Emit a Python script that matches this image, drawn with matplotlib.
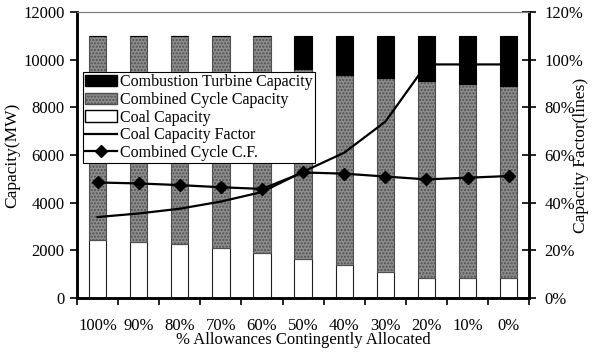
import numpy as np
import matplotlib.pyplot as plt
from matplotlib.patches import Patch
from matplotlib.lines import Line2D

plt.rcParams['font.family'] = ['Liberation Serif', 'DejaVu Serif']
plt.rcParams['font.size'] = 12

categories = ['100%', '90%', '80%', '70%', '60%', '50%', '40%', '30%', '20%', '10%', '0%']
coal_cap = [2450, 2350, 2250, 2100, 1900, 1650, 1400, 1100, 850, 850, 850]
cc_cap = [8550, 8650, 8750, 8900, 9100, 7950, 7950, 8150, 8250, 8150, 8050]
ct_cap = [0, 0, 0, 0, 0, 1400, 1650, 1750, 1900, 2000, 2100]
coal_cf = [34, 35.5, 37.5, 40.5, 44.5, 53, 61, 74, 98, 98, 98]
cc_cf = [48.5, 48.1, 47.4, 46.5, 45.8, 52.7, 52.2, 51.0, 49.8, 50.5, 51.2]

x = np.arange(len(categories))
fig = plt.figure(figsize=(5.92, 3.52), dpi=100)
ax = fig.add_axes([0.130, 0.153, 0.764, 0.813])

gray = '#8c8c8c'
dots = '#505050'
w = 0.42
ax.bar(x, coal_cap, w, color='white', edgecolor='#202020', linewidth=0.8, zorder=2)
ax.bar(x, cc_cap, w, bottom=coal_cap, color=gray, edgecolor=dots,
       hatch='.....', linewidth=0.8, zorder=2)
bottom2 = np.array(coal_cap) + np.array(cc_cap)
ax.bar(x, ct_cap, w, bottom=bottom2, color='black', edgecolor='black', linewidth=0.8, zorder=2)

ax.set_xlim(-0.5, len(categories) - 0.5)
ax.set_ylim(0, 12000)
ax.set_yticks(np.arange(0, 12001, 2000))
ax.set_xticks(np.arange(-0.5, len(categories), 1))
ax.set_xticklabels([])
ax.set_xticks(x, minor=True)
ax.set_xticklabels(categories, minor=True)
ax.tick_params(axis='x', which='major', direction='out', length=5, width=1.2)
ax.tick_params(axis='x', which='minor', length=0, pad=14)
ax.tick_params(axis='y', direction='out', length=5, width=1.2, pad=4)
ax.set_ylabel('Capacity(MW)', fontsize=12.5, labelpad=2)
ax.set_xlabel('% Allowances Contingently Allocated', labelpad=-1)

for s in ['left', 'bottom', 'right']:
    ax.spines[s].set_linewidth(1.8)
ax.spines['top'].set_linewidth(0.8)
ax.spines['top'].set_color('#808080')

ax2 = ax.twinx()
ax2.plot(x, coal_cf, color='black', linewidth=1.6, zorder=3)
ax2.plot(x, cc_cf, color='black', linewidth=1.6, marker='D', markersize=6, zorder=3)
ax2.set_ylim(0, 120)
ax2.set_yticks(np.arange(0, 121, 20))
ax2.set_yticklabels([f'{v}%' for v in range(0, 121, 20)])
ax2.tick_params(axis='y', direction='inout', length=10, width=1.2, pad=6)
ax2.set_ylabel('Capacity Factor(lines)', fontsize=12.5)
ax2.yaxis.set_label_coords(1.097, 0.5)
for s in ['left', 'bottom', 'right']:
    ax2.spines[s].set_linewidth(1.8)
ax2.spines['top'].set_linewidth(0.8)
ax2.spines['top'].set_color('#808080')

handles = [
    Patch(facecolor='black', edgecolor='black'),
    Patch(facecolor=gray, edgecolor=dots, hatch='.....'),
    Patch(facecolor='white', edgecolor='black'),
    Line2D([], [], color='black', linewidth=1.6),
    Line2D([], [], color='black', linewidth=1.6, marker='D', markersize=6),
]
labels = ['Combustion Turbine Capacity', 'Combined Cycle Capacity', 'Coal Capacity',
          'Coal Capacity Factor', 'Combined Cycle C.F.']
leg = ax2.legend(handles, labels, loc='upper left', bbox_to_anchor=(0.013, 0.79),
                 frameon=True, fancybox=False, framealpha=1, edgecolor='black',
                 borderaxespad=0, handlelength=2.0, handletextpad=0.2,
                 labelspacing=0.1, borderpad=0.15, fontsize=11.5)
leg.get_frame().set_linewidth(0.8)
leg.set_zorder(5)

fig.savefig('out.png', dpi=100)
